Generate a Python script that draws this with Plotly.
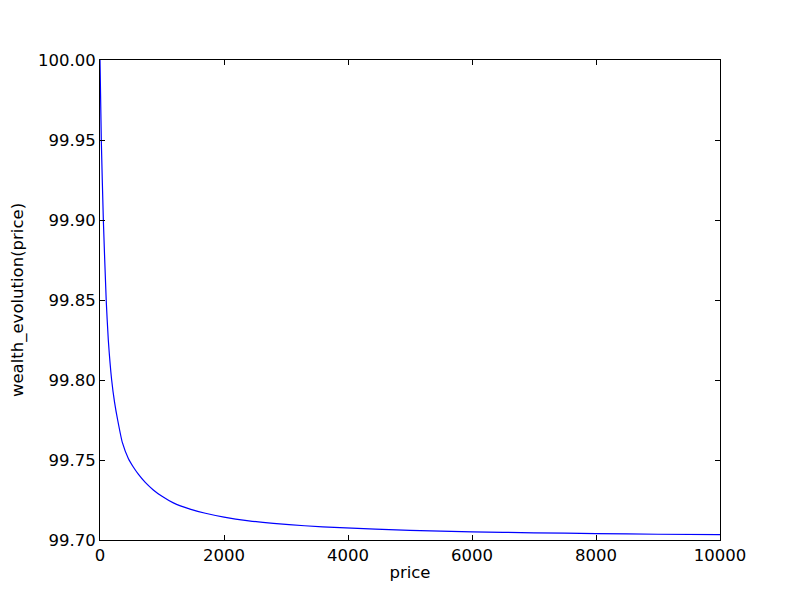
import plotly.graph_objects as go

# values
price = [0, 21, 54, 100, 134, 188, 235, 285, 360, 457, 540, 618, 730, 860,
         1000, 1183, 1452, 1700, 2000, 2400, 2796, 3300, 3871, 5000,
         6000, 7000, 8000, 9000, 10000]
wealth = [100.00, 99.950, 99.900, 99.850, 99.825, 99.800, 99.786, 99.775,
          99.761, 99.751, 99.7455, 99.7412, 99.7360, 99.7313, 99.7273,
          99.7232, 99.7193, 99.7167, 99.7143, 99.7120, 99.7104, 99.7089,
          99.7077, 99.7060, 99.7051, 99.7045, 99.7040, 99.7036, 99.7033]

x_ticks = [0, 2000, 4000, 6000, 8000, 10000]
y_ticks = [99.70, 99.75, 99.80, 99.85, 99.90, 99.95, 100.00]

fig = go.Figure()
fig.add_trace(go.Scatter(x=price, y=wealth, mode='lines',
                         line=dict(color='#0000ff', width=1.2, shape='spline',
                                   smoothing=0.5)))

axis_style = dict(
    showgrid=False, zeroline=False, showline=True, linecolor='black', linewidth=1,
    mirror='allticks', ticks='inside', ticklen=5, tickwidth=1, tickcolor='black',
    tickfont=dict(family='DejaVu Sans', size=16.5, color='black'),
    automargin=False,
)

# page body has an 8px margin, so margins are shifted to keep the plot box in place
fig.update_layout(
    width=800, height=600,
    margin=dict(l=92, r=88, t=52, b=68),
    paper_bgcolor='white', plot_bgcolor='white',
    showlegend=False,
    font=dict(family='DejaVu Sans', size=16.5, color='black'),
    xaxis=dict(axis_style, range=[0, 10000], tickvals=x_ticks, tickformat='d',
               title=dict(text='price', standoff=2,
                          font=dict(family='DejaVu Sans', size=16.5))),
    yaxis=dict(axis_style, range=[99.70, 100.00], tickvals=y_ticks, tickformat='.2f',
               title=dict(text='wealth_evolution(price)', standoff=10,
                          font=dict(family='DejaVu Sans', size=16.5))),
)

fig.write_html("out.html")
